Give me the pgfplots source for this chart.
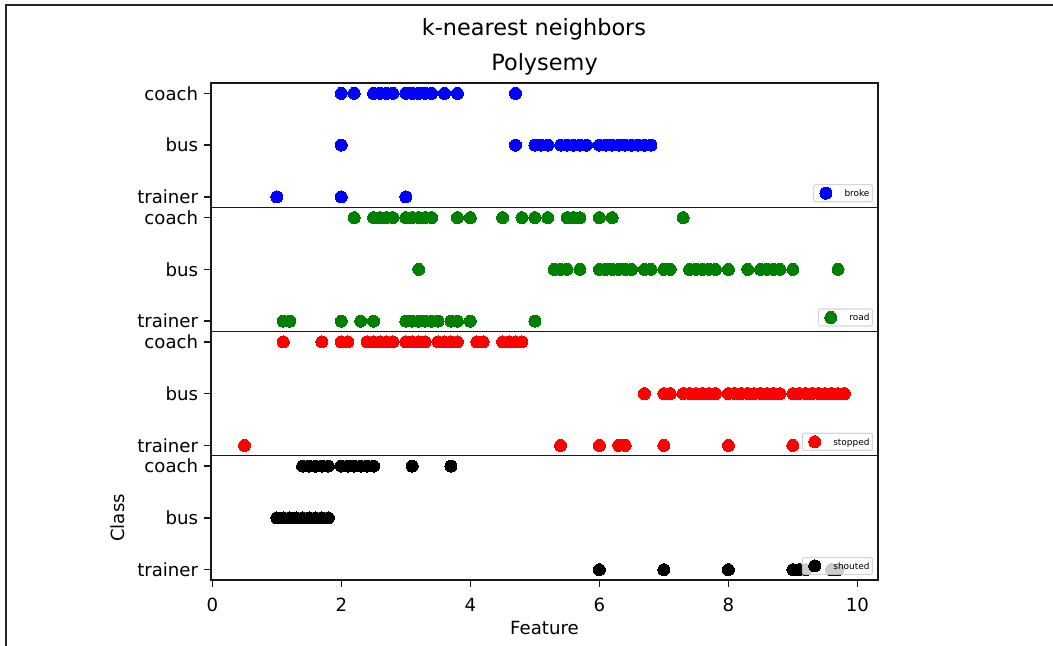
\documentclass[border=0pt]{standalone}
\usepackage{fontspec}
\setmainfont{DejaVu Sans}
\usepackage{pgfplots}
\pgfplotsset{compat=1.18}
\definecolor{mplgreen}{RGB}{0,128,0}
\definecolor{legframe}{RGB}{204,204,204}
\newcommand{\tickfont}{\fontsize{13.6pt}{16pt}\selectfont}
\newcommand{\titlefont}{\fontsize{16.8pt}{20pt}\selectfont}
\pgfplotsset{
 panel/.style={
  anchor=north west, scale only axis, width=500.25pt, height=93.1875pt,
  xmin=-0.02, xmax=10.32, ymin=-0.2, ymax=2.2,
  ytick={0,1,2}, yticklabels={trainer,bus,coach},
  xtick=\empty,
  tick pos=left,
  tick align=outside, major tick length=5pt,
  axis line style={black!90, line width=1.1pt},
  every tick/.style={black!90, line width=1.1pt},
  tick label style={font=\tickfont},
  label style={font=\tickfont},
  yticklabel style={anchor=east, inner sep=0pt, xshift=-4.5pt},
  /pgf/number format/assume math mode=true,
  legend style={at={(1,0)}, anchor=south east, xshift=-3.75pt, yshift=3.75pt,
    font=\fontsize{6.7pt}{8pt}\selectfont, draw=legframe, fill=white,
    fill opacity=0.8, draw opacity=0.8, text opacity=1, rounded corners=1.5pt,
    inner xsep=2.25pt, inner ysep=0pt, nodes={inner sep=0pt, text depth=0pt},
    line width=0.8pt},
 },
 dots/.style={only marks, mark=*, mark size=4.5pt, color=#1,
   mark options={line width=0pt},
   legend image code/.code={\path[draw=none,fill=none] (0pt,-6.375pt) rectangle (21pt,6.375pt);
     \draw[##1, fill opacity=1, draw opacity=1] plot coordinates {(7.05pt,0pt)};}},
}
\begin{document}
\begin{tikzpicture}
\useasboundingbox (0,0) rectangle (789.75pt,-484.5pt);
\draw[black!85, line width=1.5pt] (4.5pt,-484.5pt) -- (4.5pt,-3.75pt) -- (789.75pt,-3.75pt);
\node[anchor=base, font=\titlefont] at (400.5pt,-26.8pt) {k-nearest neighbors};
\node[anchor=base, font=\titlefont] at (408.4pt,-53pt) {Polysemy};

% broke
\begin{axis}[panel, at={(158.25pt,-62.25pt)}]
\addplot[dots=blue] coordinates {
 (2.0,2)(2.2,2)(2.5,2)(2.6,2)(2.7,2)(2.8,2)(3.0,2)(3.1,2)(3.2,2)(3.3,2)(3.4,2)(3.6,2)(3.8,2)(4.7,2)
 (2.0,1)(4.7,1)(5.0,1)(5.1,1)(5.2,1)(5.4,1)(5.5,1)(5.6,1)(5.7,1)(5.8,1)(6.0,1)(6.1,1)(6.2,1)(6.3,1)(6.4,1)(6.5,1)(6.6,1)(6.7,1)(6.8,1)
 (1.0,0)(2.0,0)(3.0,0)};
\addlegendentry{broke}
\end{axis}

% road
\begin{axis}[panel, at={(158.25pt,-155.4375pt)}]
\addplot[dots=mplgreen] coordinates {
 (2.2,2)(2.5,2)(2.6,2)(2.7,2)(2.8,2)(3.0,2)(3.1,2)(3.2,2)(3.3,2)(3.4,2)(3.8,2)(4.0,2)(4.5,2)(4.8,2)(5.0,2)(5.2,2)(5.5,2)(5.6,2)(5.7,2)(6.0,2)(6.2,2)(7.3,2)
 (3.2,1)(5.3,1)(5.4,1)(5.5,1)(5.7,1)(6.0,1)(6.1,1)(6.2,1)(6.3,1)(6.4,1)(6.5,1)(6.7,1)(6.8,1)(7.0,1)(7.1,1)(7.4,1)(7.5,1)(7.6,1)(7.7,1)(7.8,1)(8.0,1)(8.3,1)(8.5,1)(8.6,1)(8.7,1)(8.8,1)(9.0,1)(9.7,1)
 (1.1,0)(1.2,0)(2.0,0)(2.3,0)(2.5,0)(3.0,0)(3.1,0)(3.2,0)(3.3,0)(3.4,0)(3.5,0)(3.7,0)(3.8,0)(4.0,0)(5.0,0)};
\addlegendentry{road}
\end{axis}

% stopped
\begin{axis}[panel, at={(158.25pt,-248.625pt)}]
\addplot[dots=red] coordinates {
 (1.1,2)(1.7,2)(2.0,2)(2.1,2)(2.4,2)(2.5,2)(2.6,2)(2.7,2)(2.8,2)(3.0,2)(3.1,2)(3.2,2)(3.3,2)(3.5,2)(3.6,2)(3.7,2)(3.8,2)(4.1,2)(4.2,2)(4.5,2)(4.6,2)(4.7,2)(4.8,2)
 (6.7,1)(7.0,1)(7.1,1)(7.3,1)(7.4,1)(7.5,1)(7.6,1)(7.7,1)(7.8,1)(8.0,1)(8.1,1)(8.2,1)(8.3,1)(8.4,1)(8.5,1)(8.6,1)(8.7,1)(8.8,1)(9.0,1)(9.1,1)(9.2,1)(9.3,1)(9.4,1)(9.5,1)(9.6,1)(9.7,1)(9.8,1)
 (0.5,0)(5.4,0)(6.0,0)(6.3,0)(6.4,0)(7.0,0)(8.0,0)(9.0,0)};
\addlegendentry{stopped}
\end{axis}

% shouted
\begin{axis}[panel, at={(158.25pt,-341.8125pt)},
  xtick={0,2,4,6,8,10},
  xticklabel style={anchor=base, inner sep=0pt, yshift=-18.4pt},
  xlabel={Feature},
  xlabel style={at={(axis description cs:0.5,0)}, anchor=base, inner sep=0pt, yshift=-40.5pt},
  ylabel={Class},
  ylabel style={at={(axis description cs:-0.13943,0.5)}, anchor=center, inner sep=0pt},
]
\addplot[dots=black] coordinates {
 (1.4,2)(1.5,2)(1.6,2)(1.7,2)(1.8,2)(2.0,2)(2.1,2)(2.2,2)(2.3,2)(2.4,2)(2.5,2)(3.1,2)(3.7,2)
 (1.0,1)(1.1,1)(1.2,1)(1.3,1)(1.4,1)(1.5,1)(1.6,1)(1.7,1)(1.8,1)
 (6.0,0)(7.0,0)(8.0,0)(9.0,0)(9.1,0)(9.2,0)(9.6,0)(9.7,0)};
\addlegendentry{shouted}
\end{axis}
\end{tikzpicture}
\end{document}
